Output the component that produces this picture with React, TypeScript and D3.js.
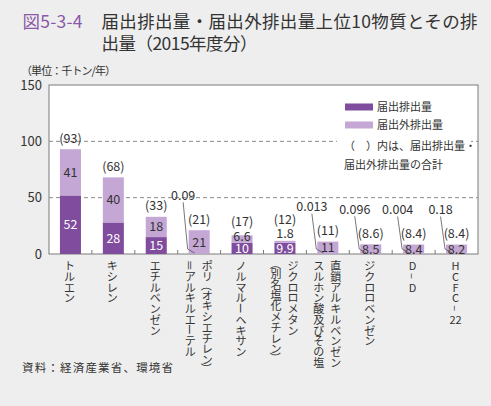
import React from "react";
import * as d3 from "d3";

const categories = [
  "トルエン",
  "キシレン",
  "エチルベンゼン",
  "ポリ（オキシエチレン）＝アルキルエーテル",
  "ノルマルーヘキサン",
  "ジクロロメタン（別名塩化メチレン）",
  "直鎖アルキルベンゼンスルホン酸及びその塩",
  "ジクロロベンゼン",
  "D–D",
  "HCFC–22",
];
// vertical label columns (right column first), one entry per vertical cell
const labelColumns: string[][][] = [
  [["ト", "ル", "エ", "ン"]],
  [["キ", "シ", "レ", "ン"]],
  [["エ", "チ", "ル", "ベ", "ン", "ゼ", "ン"]],
  [
    ["ポ", "リ", "（", "オ", "キ", "シ", "エ", "チ", "レ", "ン", "）"],
    ["＝", "ア", "ル", "キ", "ル", "エ", "ー", "テ", "ル"],
  ],
  [["ノ", "ル", "マ", "ル", "ー", "ヘ", "キ", "サ", "ン"]],
  [
    ["ジ", "ク", "ロ", "ロ", "メ", "タ", "ン"],
    ["（", "別", "名", "塩", "化", "メ", "チ", "レ", "ン", "）"],
  ],
  [
    ["直", "鎖", "ア", "ル", "キ", "ル", "ベ", "ン", "ゼ", "ン"],
    ["ス", "ル", "ホ", "ン", "酸", "及", "び", "そ", "の", "塩"],
  ],
  [["ジ", "ク", "ロ", "ロ", "ベ", "ン", "ゼ", "ン"]],
  [["D", "–", "D"]],
  [["H", "C", "F", "C", "–", "22"]],
];
const reported = [52, 28, 15, 0.09, 10, 9.9, 0.013, 0.096, 0.004, 0.18];
const notReported = [41, 40, 18, 21, 6.6, 1.8, 11, 8.5, 8.4, 8.2];
const totals = ["(93)", "(68)", "(33)", "(21)", "(17)", "(12)", "(11)", "(8.6)", "(8.4)", "(8.4)"];
const yTicks = [0, 50, 100, 150];

const W = 491;
const H = 406;
const L = 49, R = 478, T = 85, B = 254;
const DARK = "#7f4c9e";
const LIGHT = "#c4a7d4";
const TXT = "#333333";
const FONT = "'Noto Sans CJK JP', 'Noto Sans', sans-serif";

const ROT = new Set(["ー", "（", "）", "＝", "–"]);

function VText({ chars, x, y0 }: { chars: string[]; x: number; y0: number }) {
  let y = y0;
  const out: React.ReactNode[] = [];
  chars.forEach((c, i) => {
    const isBr = c === "（" || c === "）";
    const p = isBr ? 8 : 10.7;
    const cy = y + p / 2;
    if (ROT.has(c)) {
      out.push(
        <text key={i} x={x} y={cy} textAnchor="middle" dominantBaseline="central"
          transform={`rotate(90, ${x}, ${cy})`}>{c}</text>
      );
    } else {
      out.push(
        <text key={i} x={x} y={cy} textAnchor="middle" dominantBaseline="central">{c}</text>
      );
    }
    y += p;
  });
  return <g>{out}</g>;
}

export default function App() {
  const x = d3.scaleBand<string>().domain(categories).range([L, R]).padding(0);
  const y = d3.scaleLinear().domain([0, 150]).range([B, T]);
  const bw = x.bandwidth() * 0.49;

  return (
    <svg width={W} height={H} style={{ position: "absolute", left: 0, top: 0, background: "#eeeeee" }}
      fontFamily={FONT}>
      <rect x={0} y={0} width={W} height={H} fill="#eeeeee" />
      {/* title */}
      <text x={22.5} y={28} fontSize={17.5} fill="#8a5aa8" textLength={60} lengthAdjust="spacing">図5-3-4</text>
      <text x={101.5} y={28} fontSize={17.5} fill={TXT} textLength={376} lengthAdjust="spacing">届出排出量・届出外排出量上位10物質とその排</text>
      <text x={101.5} y={50} fontSize={17.5} fill={TXT} textLength={156} lengthAdjust="spacing">出量（2015年度分）</text>
      <text x={21} y={75} fontSize={11} fill={TXT} textLength={95} lengthAdjust="spacing">（単位：千トン/年）</text>

      {/* plot frame */}
      <rect x={L} y={T} width={R - L} height={B - T} fill="#ffffff" stroke="#7a7a7a" strokeWidth={1} />
      {yTicks.filter((t) => t > 0 && t < 150).map((t) => (
        <line key={t} x1={L} x2={R} y1={y(t)} y2={y(t)} stroke="#8a8a8a" strokeDasharray="4 3" strokeWidth={1} />
      ))}
      {yTicks.map((t) => (
        <text key={t} x={42} y={y(t)} dy="0.35em" textAnchor="end" fontSize={13} fill={TXT}>{t}</text>
      ))}
      {categories.slice(1).map((c) => (
        <line key={c} x1={x(c)!} x2={x(c)!} y1={B} y2={B - 4} stroke="#7a7a7a" />
      ))}

      {/* legend */}
      <rect x={337} y={93} width={134} height={80} fill="#ffffff" />
      <rect x={345} y={103.5} width={28} height={7} fill={DARK} />
      <text x={377} y={107} dy="0.35em" fontSize={11} fill={TXT}>届出排出量</text>
      <rect x={345} y={121.5} width={28} height={7} fill={LIGHT} />
      <text x={377} y={125} dy="0.35em" fontSize={11} fill={TXT}>届出外排出量</text>
      <text x={344} y={146.5} dy="0.35em" fontSize={11} fill={TXT}>（　）内は、届出排出量・</text>
      <text x={344} y={165} dy="0.35em" fontSize={11} fill={TXT}>届出外排出量の合計</text>

      {/* bars */}
      {categories.map((c, i) => {
        const cx = x(c)! + x.bandwidth() / 2;
        const bx = cx - bw / 2;
        const d = reported[i];
        const l = notReported[i];
        const yD = y(d);
        const yT = y(d + l);
        const darkH = B - yD;
        const lightH = yD - yT;
        const darkInside = d >= 5;
        const lightAbove = darkInside && lightH < 14;
        const lightLabelY = lightAbove ? (lightH >= 5 ? yT + 1 : yT - 7) : (yT + yD) / 2;
        const totalY = lightAbove ? lightLabelY - 14.6 : yT - 11;
        const leadX = cx - 16;
        const leadY = totalY - 24;
        const cols = labelColumns[i];
        return (
          <g key={c}>
            <rect x={bx} y={yD} width={bw} height={darkH} fill={DARK} />
            <rect x={bx} y={yT} width={bw} height={lightH} fill={LIGHT} />
            {darkInside && (
              <text x={cx} y={(yD + B) / 2} dy="0.36em" textAnchor="middle" fontSize={12.5} fill="#ffffff">{d}</text>
            )}
            <text x={cx} y={lightLabelY} dy="0.36em" textAnchor="middle" fontSize={12.5} fill={TXT}>{l}</text>
            <text x={cx} y={totalY} dy="0.36em" textAnchor="middle" fontSize={12.5} fill={TXT}>{totals[i]}</text>
            {!darkInside && (
              <g>
                <text x={leadX} y={leadY} dy="0.36em" textAnchor="middle" fontSize={12.5} fill={TXT}>{d}</text>
                <polyline
                  points={`${leadX},${leadY + 7} ${bx - 1},${B - 5} ${bx + 6},${B - 1}`}
                  fill="none" stroke="#555" strokeWidth={0.8} />
              </g>
            )}
            {/* x labels */}
            <g fontSize={11} fill={TXT}>
              {cols.length === 1 ? (
                <VText chars={cols[0]} x={cx - 1} y0={260} />
              ) : (
                <>
                  <VText chars={cols[0]} x={cx + 8} y0={260} />
                  <VText chars={cols[1]} x={cx - 9} y0={260} />
                </>
              )}
            </g>
          </g>
        );
      })}

      <text x={22} y={368} dy="0.35em" fontSize={11.5} fill={TXT} textLength={151} lengthAdjust="spacing">資料：経済産業省、環境省</text>
    </svg>
  );
}
